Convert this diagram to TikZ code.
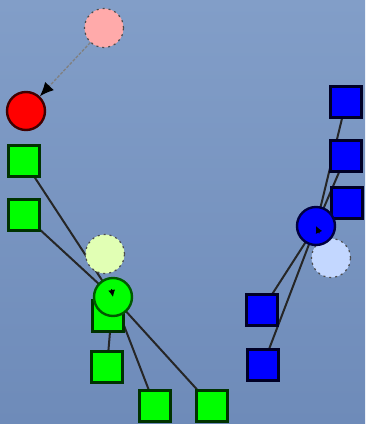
\documentclass[tikz,border=0pt]{standalone}
\usetikzlibrary{arrows.meta,calc}
\definecolor{bgtop}{RGB}{130,158,200}
\definecolor{bgbot}{RGB}{110,139,185}
\definecolor{gfill}{RGB}{0,255,0}
\definecolor{bfill}{RGB}{0,0,255}
\definecolor{pinkf}{RGB}{255,170,170}
\definecolor{lgreenf}{RGB}{225,255,180}
\definecolor{lbluef}{RGB}{195,215,255}
\tikzset{
  sq/.style={line width=2.4pt, minimum size=31pt, inner sep=0pt, rectangle},
  gsq/.style={sq, fill=gfill, draw=black!80!green},
  bsq/.style={sq, fill=bfill, draw=black!85!blue},
  mcirc/.style={circle, minimum size=38pt, inner sep=0pt, line width=2.4pt},
  ghost/.style={circle, minimum size=39pt, inner sep=0pt, draw=black!70, line width=1.2pt, dash pattern=on 2pt off 4pt},
  link/.style={draw=black!85, line width=2pt},
  ptr/.style={-{Latex[length=7pt,width=7pt]}, draw=black, line width=1pt},
}
\begin{document}
\begin{tikzpicture}[x=1pt,y=-1pt]
\shade[top color=bgtop, bottom color=bgbot] (0,0) rectangle (365,424);
\useasboundingbox (0,0) rectangle (365,424);
\coordinate (gc) at (113,297);
\coordinate (bc) at (316,226);
% green squares
\node[gsq] (g1) at (24,161) {};
\node[gsq] (g2) at (24,215) {};
\node[gsq] (g3) at (108,316) {};
\node[gsq] (g4) at (107,367) {};
\node[gsq] (g5) at (155,406) {};
\node[gsq] (g6) at (212,406) {};
% blue squares
\node[bsq] (b1) at (346,102) {};
\node[bsq] (b2) at (346,156) {};
\node[bsq] (b3) at (347,203) {};
\node[bsq] (b4) at (262,310) {};
\node[bsq] (b5) at (263,365) {};
% links
\draw[link] (g1.center) -- (gc);
\draw[link] (g2.center) -- (gc);
\draw[link] (g4.center) -- (gc);
\draw[link] (g5.center) -- (gc);
\draw[link] (g6.center) -- (gc);
\draw[link] (b1.center) -- (bc);
\draw[link] (b2.center) -- (bc);
\draw[link] (b4.center) -- (bc);
\draw[link] (b5.center) -- (bc);
% squares over links
\node[gsq] at (g1) {};
\node[gsq] at (g2) {};
\node[gsq] at (g3) {};
\node[gsq] at (g4) {};
\node[gsq] at (g5) {};
\node[gsq] at (g6) {};
\node[bsq] at (b1) {};
\node[bsq] at (b2) {};
\node[bsq] at (b3) {};
\node[bsq] at (b4) {};
\node[bsq] at (b5) {};
% ghost circles
\node[ghost, fill=pinkf] (pk) at (104,28) {};
\node[ghost, fill=lgreenf] (lg) at (105,254) {};
\node[ghost, fill=lbluef] (lb) at (331,258) {};
% main circles
\node[mcirc, fill=red, draw=black!75!red] (rd) at (26,111) {};
\node[mcirc, fill=gfill, draw=black!65!green] (gn) at (gc) {};
\node[mcirc, fill=bfill, draw=black!75!blue] (bl) at (bc) {};
% pointers
\draw[-{Latex[length=14pt,width=12pt,color=black]}, draw=black!50, line width=1.3pt, dash pattern=on 3pt off 1.5pt] (pk) -- (rd);
\draw[ptr] ($(gn.center)!8pt!(lg.center)$) -- (gn.center);
\draw[ptr] ($(bl.center)!8pt!(lb.center)$) -- (bl.center);
\end{tikzpicture}
\end{document}
